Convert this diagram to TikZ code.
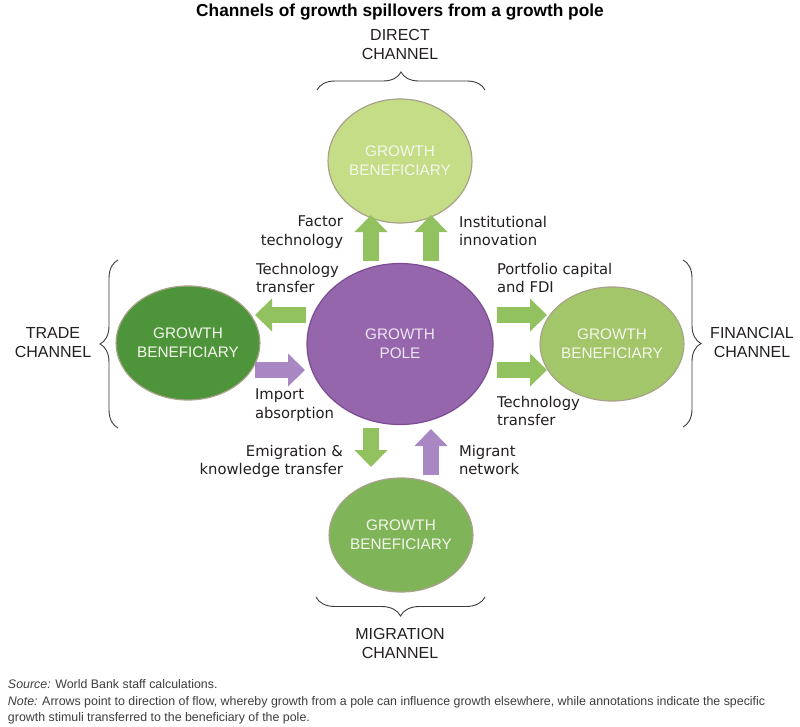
\documentclass[tikz,border=0pt]{standalone}
\usepackage{fontspec}
\setmainfont{DejaVu Sans}
\newfontfamily\arialfont{Liberation Sans}
\usetikzlibrary{arrows.meta,shapes.geometric,decorations.pathreplacing}
\definecolor{polefill}{HTML}{9566AC}
\definecolor{poleline}{HTML}{7B4B94}
\definecolor{poletext}{HTML}{EEE6F3}
\definecolor{topfill}{HTML}{C6DD88}
\definecolor{leftfill}{HTML}{4E943A}
\definecolor{rightfill}{HTML}{A3C66A}
\definecolor{botfill}{HTML}{80B459}
\definecolor{benline}{HTML}{A8A28A}
\definecolor{bentext}{HTML}{F4F8EC}
\definecolor{flowgreen}{HTML}{92C160}
\definecolor{flowpurple}{HTML}{A987C3}
\definecolor{labeltext}{HTML}{231F20}
\definecolor{bracegray}{HTML}{3A3A3A}
\definecolor{notegray}{HTML}{3C3C3C}

\begin{document}
\begin{tikzpicture}[x=1pt,y=-1pt]
\tikzstyle{every node}=[inner sep=0pt, outer sep=0pt]
\tikzstyle{ben}=[ellipse, draw=benline, line width=1.2pt, minimum width=128pt, minimum height=114pt, align=center, text=bentext, font=\arialfont\fontsize{15.3}{19}\selectfont]
\tikzstyle{pole}=[ben, draw=poleline, fill=polefill, minimum width=186pt, minimum height=161pt, text=poletext]
\tikzstyle{lbl}=[align=left, text=labeltext, font=\fontsize{14.8}{18.5}\selectfont]
\tikzstyle{chan}=[align=center, anchor=north, text=labeltext, font=\arialfont\fontsize{16}{19.5}\selectfont]
\tikzstyle{note}=[anchor=base west, text=notegray, font=\arialfont\fontsize{12.4}{16}\selectfont]
\tikzstyle{flow}=[line width=16pt, -{Triangle[width=33pt,length=17pt,line width=0pt]}]
\tikzstyle{brc}=[decorate, decoration={brace, amplitude=18pt}, draw=bracegray, line width=0.9pt]
\useasboundingbox (0,0) rectangle (800,726);

\draw (400,4) node (title) [anchor=north, text=black, font=\arialfont\bfseries\fontsize{17.3}{20}\selectfont] {Channels of growth spillovers from a growth pole};

\draw (400,344) node (pole) [pole] {GROWTH\\POLE};
\draw (400,161) node (direct) [ben, fill=topfill, minimum height=124pt] {GROWTH\\BENEFICIARY};
\draw (188,343) node (trade) [ben, fill=leftfill] {GROWTH\\BENEFICIARY};
\draw (612,344) node (financial) [ben, fill=rightfill] {GROWTH\\BENEFICIARY};
\draw (401,535) node (migration) [ben, fill=botfill] {GROWTH\\BENEFICIARY};

\draw (400,29) node (directlbl) [chan] {DIRECT\\CHANNEL};
\draw (53,327) node (tradelbl) [chan] {TRADE\\CHANNEL};
\draw (752,327) node (financiallbl) [chan] {FINANCIAL\\CHANNEL};
\draw (400,628) node (migrationlbl) [chan] {MIGRATION\\CHANNEL};

\draw[brc] (317,90) -- (485,90);
\draw[brc] (118,428) -- (118,260);
\draw[brc] (683,260) -- (683,427);
\draw[brc, decoration={amplitude=19pt}] (485,597) -- (316,597);

\coordinate (factorS) at (371,261);
\coordinate (factorE) at (371,215);
\coordinate (instS) at (431,261);
\coordinate (instE) at (431,215);
\coordinate (techLS) at (306,315);
\coordinate (techLE) at (255,315);
\coordinate (importS) at (255,370);
\coordinate (importE) at (305,370);
\coordinate (portS) at (497,315);
\coordinate (portE) at (547,315);
\coordinate (techRS) at (497,370);
\coordinate (techRE) at (547,370);
\coordinate (emigS) at (371,428);
\coordinate (emigE) at (371,467);
\coordinate (migrS) at (431,475);
\coordinate (migrE) at (431,429);
\draw[flow, flowgreen] (factorS) -- (factorE);
\draw[flow, flowgreen] (instS) -- (instE);
\draw[flow, flowgreen] (techLS) -- (techLE);
\draw[flow, flowpurple] (importS) -- (importE);
\draw[flow, flowgreen] (portS) -- (portE);
\draw[flow, flowgreen] (techRS) -- (techRE);
\draw[flow, flowgreen] (emigS) -- (emigE);
\draw[flow, flowpurple] (migrS) -- (migrE);

\draw (343,216) node (factor) [lbl, anchor=north east, align=right] {Factor\\technology};
\draw (459,216) node (inst) [lbl, anchor=north west] {Institutional\\innovation};
\draw (256,263) node (techL) [lbl, anchor=north west] {Technology\\transfer};
\draw (497,263) node (port) [lbl, anchor=north west] {Portfolio capital\\and FDI};
\draw (255,389) node (import) [lbl, anchor=north west] {Import\\absorption};
\draw (497,396) node (techR) [lbl, anchor=north west] {Technology\\transfer};
\draw (343,445) node (emig) [lbl, anchor=north east, align=right] {Emigration \&\\knowledge transfer};
\draw (459,445) node (migr) [lbl, anchor=north west] {Migrant\\network};

\draw (8,688) node (source) [note] {\textit{Source:} World Bank staff calculations.};
\draw (8,705) node (note1) [note] {\textit{Note:} Arrows point to direction of flow, whereby growth from a pole can influence growth elsewhere, while annotations indicate the specific};
\draw (8,721) node (note2) [note] {growth stimuli transferred to the beneficiary of the pole.};
\end{tikzpicture}
\end{document}
